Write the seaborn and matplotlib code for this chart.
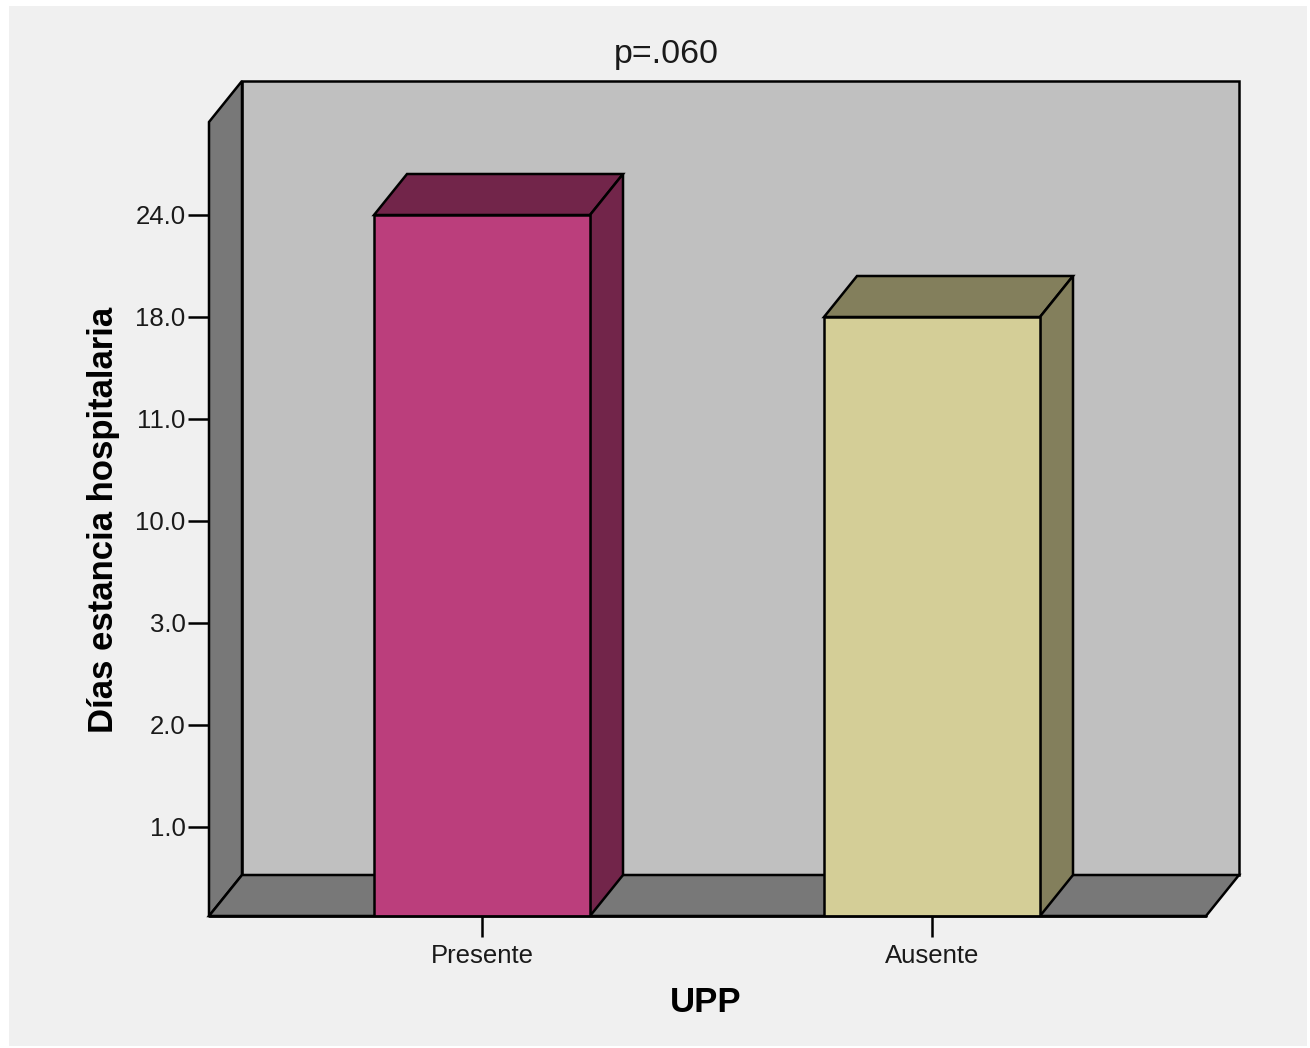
import matplotlib
matplotlib.use("Agg")
import matplotlib.pyplot as plt
from matplotlib.patches import Polygon, Rectangle
import seaborn as sns
import pandas as pd

# Data
categories = ["Presente", "Ausente"]
values = [24.0, 18.0]
ytick_labels = ["1.0", "2.0", "3.0", "10.0", "11.0", "18.0", "24.0"]
front_colors = ["#bb3e7c", "#d4ce97"]
shade_colors = ["#72254a", "#837f5c"]

# Each labelled value sits on its own evenly spaced tick position
positions = [ytick_labels.index(f"{v:.1f}") + 1 for v in values]
df = pd.DataFrame({"UPP": categories, "pos": positions})

sns.set_theme(style="white")
plt.rcParams["font.family"] = ["Liberation Sans", "DejaVu Sans"]

W, H = 1310, 1048
fig = plt.figure(figsize=(W / 100, H / 100), dpi=100, facecolor="white")
fig.patches.append(Rectangle((9 / W, 0.002), (1307 - 9) / W, (1040) / H,
                             transform=fig.transFigure, facecolor="#f0f0f0",
                             edgecolor="none", zorder=-10))

# Front frame of the box (pixels): x 209..1206, y 122..916
left, right, top, bottom = 209, 1206, 122, 916
ax = fig.add_axes([left / W, 1 - bottom / H, (right - left) / W, (bottom - top) / H])
ax.set_facecolor("none")

LW = 1.8

# Front faces of the bars
sns.barplot(data=df, x="UPP", y="pos", hue="UPP", palette=front_colors,
            saturation=1, width=216 / 450, edgecolor="black", linewidth=LW,
            legend=False, ax=ax, zorder=3)

xmin, xmax = -0.6067, 1.6089
ymin, ymax = 1 - 89 / 102, 1 + (827 - top) / 102
ax.set_xlim(xmin, xmax)
ax.set_ylim(ymin, ymax)

# Depth offset of the 3-D box in data units
dx = 33 / 450
dy = 41 / 102

edge = dict(edgecolor="black", linewidth=LW, clip_on=False, joinstyle="miter")

# Back wall, left wall, floor
ax.add_patch(Polygon([(xmin + dx, ymin + dy), (xmax + dx, ymin + dy),
                      (xmax + dx, ymax + dy), (xmin + dx, ymax + dy)],
                     facecolor="#c0c0c0", zorder=1, **edge))
ax.add_patch(Polygon([(xmin, ymin), (xmin, ymax), (xmin + dx, ymax + dy),
                      (xmin + dx, ymin + dy)],
                     facecolor="#787878", zorder=1.1, **edge))
ax.add_patch(Polygon([(xmin, ymin), (xmax, ymin), (xmax + dx, ymin + dy),
                      (xmin + dx, ymin + dy)],
                     facecolor="#787878", zorder=1.1, **edge))

bars = [p for p in ax.patches if isinstance(p, Rectangle)]
for bar, shade in zip(bars, shade_colors):
    x0 = bar.get_x()
    x1 = x0 + bar.get_width()
    h = bar.get_height()
    ax.add_patch(Polygon([(x0, h), (x1, h), (x1 + dx, h + dy), (x0 + dx, h + dy)],
                         facecolor=shade, zorder=2, **edge))
    ax.add_patch(Polygon([(x1, ymin), (x1, h), (x1 + dx, h + dy), (x1 + dx, ymin + dy)],
                         facecolor=shade, zorder=2, **edge))

ax.plot([xmin, xmax], [ymin, ymin], color="black", lw=LW + 0.2, clip_on=False, zorder=4)

for s in ax.spines.values():
    s.set_visible(False)

ax.set_yticks(range(1, len(ytick_labels) + 1))
ax.set_yticklabels(ytick_labels)
ax.tick_params(axis="y", left=True, length=15, width=LW, color="black",
               labelsize=18.5, pad=2, labelcolor="#1a1a1a")
ax.tick_params(axis="x", bottom=True, length=15, width=LW, color="black",
               labelsize=18.5, pad=5, labelcolor="#1a1a1a")

ax.set_ylabel("Días estancia hospitalaria", fontsize=25, fontweight="bold",
              va="center", color="black")
ax.yaxis.set_label_coords((104 - left) / (right - left), (bottom - 520) / (bottom - top))
ax.set_xlabel("UPP", fontsize=25, fontweight="bold", va="center", color="black")
ax.xaxis.set_label_coords((706 - left) / (right - left), (bottom - 1003) / (bottom - top))

ax.text((666 - left) / (right - left), (bottom - 54) / (bottom - top), "p=.060",
        transform=ax.transAxes, ha="center", va="center", fontsize=24.5,
        color="#1a1a1a")

fig.savefig("out.png", dpi=100, facecolor=fig.get_facecolor())
